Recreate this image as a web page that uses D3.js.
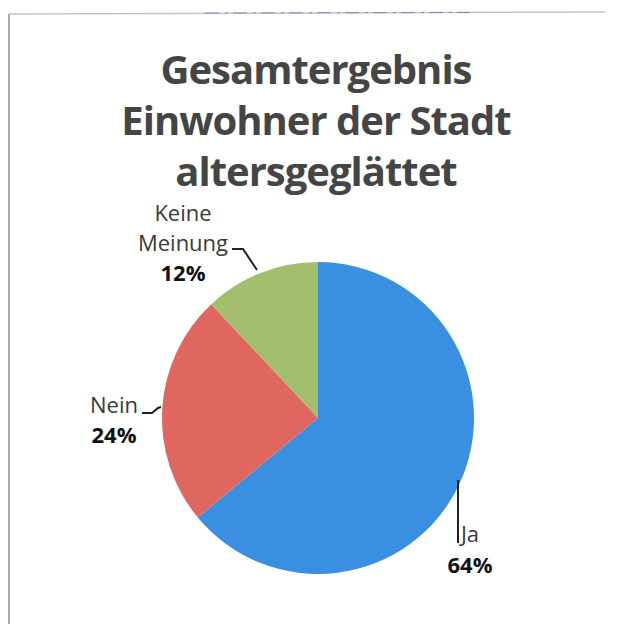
<!DOCTYPE html>
<html>
<head>
<meta charset="utf-8">
<script src="https://cdn.jsdelivr.net/npm/d3@7"></script>
<style>
  body { margin: 0; background: #fff; }
  svg { display: block; }
</style>
</head>
<body>
<svg width="617" height="624"></svg>
<script>
// data
const categories = ['Ja', 'Nein', 'Keine Meinung'];
const shares = [64, 24, 12];
const titleLines = ['Gesamtergebnis', 'Einwohner der Stadt', 'altersgeglättet'];

const svg = d3.select('svg');
const cx = 318, cy = 418, radius = 156;

// scanned frame
svg.append('line').attr('x1', 9).attr('y1', 14).attr('x2', 605).attr('y2', 12)
  .attr('stroke', '#c4c4c4').attr('stroke-width', 1.5);
svg.append('line').attr('x1', 205).attr('y1', 13).attr('x2', 470).attr('y2', 12.5)
  .attr('stroke', '#5a7cb8').attr('stroke-width', 0.8).attr('stroke-dasharray', '14,6,3,5');
svg.append('line').attr('x1', 9).attr('y1', 14).attr('x2', 9).attr('y2', 624)
  .attr('stroke', '#aaa').attr('stroke-width', 2);

// title
svg.append('g').selectAll('text').data(titleLines).join('text')
  .attr('x', 316).attr('y', (d, i) => 84 + i * 50.8)
  .attr('text-anchor', 'middle')
  .attr('font-family', 'Open Sans, sans-serif')
  .attr('font-weight', 'bold').attr('font-size', 40)
  .attr('letter-spacing', -1)
  .attr('fill', '#454545')
  .text(d => d);

const color = d3.scaleOrdinal().domain(categories).range(['#3b8fe1', '#e0675f', '#a3be6d']);

const pie = d3.pie().sort(null).value(d => d.v);
const arcs = pie(categories.map((c, i) => ({ c, v: shares[i] })));
const arc = d3.arc().innerRadius(0).outerRadius(radius);

const g = svg.append('g').attr('transform', `translate(${cx},${cy})`);
g.selectAll('path').data(arcs).join('path')
  .attr('d', arc)
  .attr('fill', d => color(d.data.c));

// labels with leader lines
const labels = [
  { lines: ['Keine', 'Meinung', shares[2] + '%'], x: 183, y: 221, dy: 30,
    leader: [[232, 249], [243, 249], [257, 270]] },
  { lines: ['Nein', shares[1] + '%'], x: 114, y: 413, dy: 30,
    leader: [[142, 413], [152, 413], [158, 408], [161, 407]] },
  { lines: ['Ja', shares[0] + '%'], x: 470, y: 542, dy: 31,
    leader: [[458, 480], [458, 543]] }
];

labels.forEach(l => {
  const t = svg.append('text').attr('text-anchor', 'middle')
    .attr('font-family', 'Open Sans, sans-serif').attr('font-size', 22);
  l.lines.forEach((s, i) => {
    const pct = s.endsWith('%');
    t.append('tspan').attr('x', l.x).attr('y', l.y + i * l.dy)
      .attr('font-weight', pct ? 'bold' : 'normal')
      .attr('fill', pct ? '#111' : '#3a3a3a')
      .text(s);
  });
  svg.append('path').attr('d', d3.line()(l.leader))
    .attr('fill', 'none').attr('stroke', '#222').attr('stroke-width', 2);
});
</script>
</body>
</html>
